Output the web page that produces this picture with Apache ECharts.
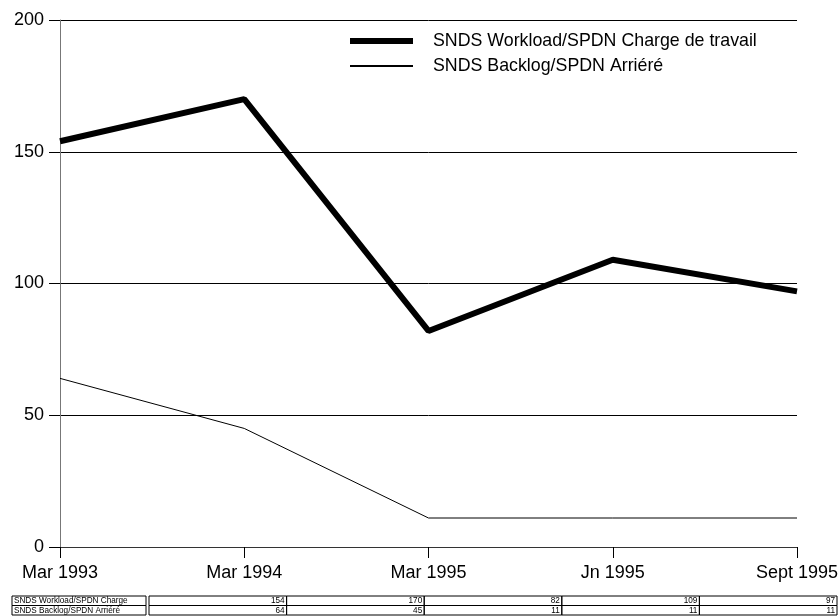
<!DOCTYPE html>
<html>
<head>
<meta charset="utf-8">
<script src="https://cdn.jsdelivr.net/npm/echarts@6/dist/echarts.min.js"></script>
<style>
  html, body { margin: 0; padding: 0; background: #fff; }
  #main { width: 838px; height: 616px; }
</style>
</head>
<body>
<div id="main"></div>
<script>
var categories = ['Mar 1993', 'Mar 1994', 'Mar 1995', 'Jn 1995', 'Sept 1995'];
var workload = [154, 170, 82, 109, 97];
var backlog = [64, 45, 11, 11, 11];
var seriesNames = ['SNDS Workload/SPDN Charge de travail', 'SNDS Backlog/SPDN Arriéré'];
var tableLabels = ['SNDS Workload/SPDN Charge', 'SNDS Backlog/SPDN Arriéré'];
var yTicks = [0, 50, 100, 150, 200];

var chart = echarts.init(document.getElementById('main'));

// data table under the chart
function buildTable() {
  var els = [];
  var rows = [workload, backlog];
  var top = 596, rowH = 9.5;
  var labelLeft = 12, labelRight = 146, dataLeft = 149, colW = 137.6;
  var font = '8.2px "Liberation Sans", Arial, sans-serif';
  rows.forEach(function (vals, r) {
    var y = top + r * rowH;
    els.push({ type: 'rect', shape: { x: labelLeft, y: y, width: labelRight - labelLeft, height: rowH },
      style: { fill: 'none', stroke: '#000', lineWidth: 1 } });
    els.push({ type: 'text', x: labelLeft + 2, y: y + rowH / 2,
      style: { text: tableLabels[r], font: font, fill: '#000', textVerticalAlign: 'middle' } });
    vals.forEach(function (v, c) {
      var x = dataLeft + c * colW;
      els.push({ type: 'rect', shape: { x: x, y: y, width: colW, height: rowH },
        style: { fill: 'none', stroke: '#000', lineWidth: 1 } });
      els.push({ type: 'text', x: x + colW - 2, y: y + rowH / 2,
        style: { text: String(v), font: font, fill: '#000', textAlign: 'right', textVerticalAlign: 'middle' } });
    });
  });
  return els;
}

var option = {
  animation: false,
  textStyle: { fontFamily: '"Liberation Sans", Arial, sans-serif' },
  grid: { left: 60, right: 41, top: 20, bottom: 69, containLabel: false, outerBoundsMode: 'none' },
  legend: [
    {
      data: [seriesNames[0]], left: 345, top: 27, icon: 'rect',
      itemWidth: 63, itemHeight: 6,
      textStyle: { fontSize: 17.8, color: '#000', padding: [0, 0, 0, 15] }
    },
    {
      data: [seriesNames[1]], left: 345, top: 52, icon: 'rect',
      itemWidth: 63, itemHeight: 2,
      textStyle: { fontSize: 17.8, color: '#000', padding: [0, 0, 0, 15] }
    }
  ],
  xAxis: {
    type: 'category',
    data: categories,
    boundaryGap: false,
    axisLine: { lineStyle: { color: '#333', width: 1 } },
    axisTick: { show: true, length: 11, lineStyle: { color: '#000' } },
    axisLabel: { fontSize: 18, color: '#000', margin: 17 },
    splitLine: { show: false }
  },
  yAxis: {
    type: 'value',
    min: 0, max: 200, interval: 50,
    axisLine: { show: true, lineStyle: { color: '#777', width: 1 } },
    axisTick: { show: true, length: 11, lineStyle: { color: '#000' } },
    axisLabel: { fontSize: 18, color: '#000', margin: 16,
      formatter: function (v) { return yTicks.indexOf(v) >= 0 ? String(v) : ''; } },
    splitLine: { show: true, lineStyle: { color: '#000', width: 1 } }
  },
  series: [
    {
      name: seriesNames[0], type: 'line', data: workload,
      symbol: 'none', color: '#000',
      lineStyle: { color: '#000', width: 6 }
    },
    {
      name: seriesNames[1], type: 'line', data: backlog,
      symbol: 'none', color: '#000',
      lineStyle: { color: '#000', width: 1 }
    }
  ],
  graphic: buildTable()
};

chart.setOption(option);
</script>
</body>
</html>
